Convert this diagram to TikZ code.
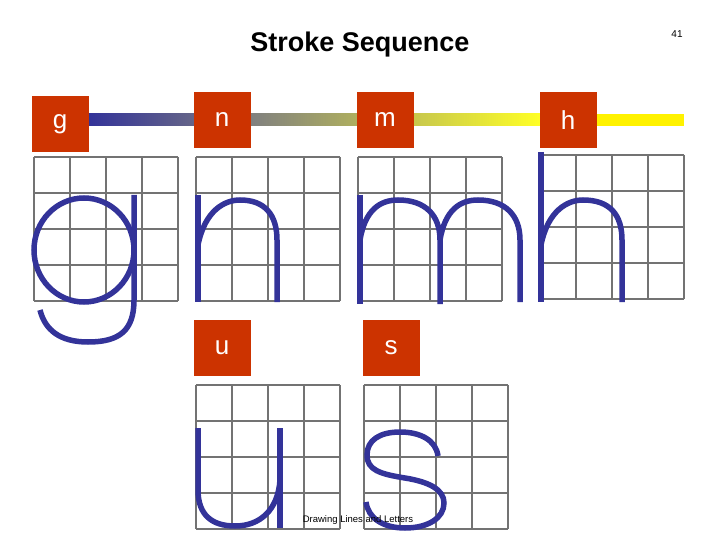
\documentclass[tikz,border=0pt]{standalone}
\usepackage{fontspec}
\setmainfont{Liberation Sans}
\begin{document}
\begin{tikzpicture}[x=1pt,y=-1pt,
  gridline/.style={draw=gray!90!black,line width=1.5pt},
  lbox/.style={text=white,minimum width=57pt,minimum height=56pt,inner sep=0pt,font=\fontsize{26}{26}\selectfont},
  stroke/.style={line width=5.5pt,line cap=butt}]
\definecolor{navy}{RGB}{51,51,153}
\definecolor{boxred}{RGB}{204,51,0}
\tikzset{lbox/.append style={fill=boxred},stroke/.append style={draw=navy}}
\useasboundingbox (0,0) rectangle (720,540);
\node[font=\bfseries\fontsize{27}{27}\selectfont] (title) at (360,45) {Stroke Sequence};
\node[font=\fontsize{10}{10}\selectfont] (pg) at (677,34) {41};
% gradient bar
\shade[left color=navy,right color=gray] (89,114) rectangle (250,126);
\shade[left color=gray,right color=yellow!85!white] (250,114) rectangle (540,126);
\fill[yellow] (540,114) rectangle (684,126);
% grids
\foreach \gx/\gy in {34/157,196/157,358/157,540/155,196/385,364/385}{
  \foreach \i in {0,36,72,108,144}{
    \draw[gridline] (\gx+\i,\gy) -- (\gx+\i,\gy+144);
    \draw[gridline] (\gx,\gy+\i) -- (\gx+144,\gy+\i);
  }
}
% letter boxes
\node[lbox] (bg) at (60,124) {g};
\node[lbox] (bn) at (222,120) {n};
\node[lbox] (bm) at (385,120) {m};
\node[lbox] (bh) at (568,120) {h};
\node[lbox] (bu) at (222,348) {u};
\node[lbox] (bs) at (391,348) {s};
% g
\draw[stroke] (84,250) ellipse [x radius=50, y radius=52];
\draw[stroke] (134,195) -- (134,300) .. controls (134,330) and (120,342) .. (88,342) .. controls (60,342) and (45,330) .. (40,310);
% n
\draw[stroke] (198,195) -- (198,302);
\draw[stroke] (198,245) .. controls (205,210) and (225,200) .. (240,200) .. controls (265,200) and (277,215) .. (277,240) -- (277,302);
% m
\draw[stroke] (360,195) -- (360,304);
\draw[stroke] (360,240) .. controls (365,210) and (380,200) .. (398,200) .. controls (425,200) and (440,215) .. (440,240) -- (440,304);
\draw[stroke] (440,240) .. controls (445,210) and (460,200) .. (478,200) .. controls (505,200) and (520,215) .. (520,240) -- (520,302);
% h
\draw[stroke] (541,152) -- (541,302);
\draw[stroke] (541,245) .. controls (548,210) and (568,200) .. (583,200) .. controls (610,200) and (622,215) .. (622,240) -- (622,302);
% u
\draw[stroke] (198,428) -- (198,490) .. controls (198,515) and (212,526) .. (235,526) .. controls (260,526) and (278,510) .. (280,480);
\draw[stroke] (280,428) -- (280,528);
% s
\draw[stroke] (438,456) .. controls (436,440) and (420,432) .. (400,432) .. controls (380,432) and (367,440) .. (367,455) .. controls (367,470) and (380,474) .. (405,478) .. controls (430,482) and (444,490) .. (444,503) .. controls (444,518) and (428,528) .. (405,528) .. controls (383,528) and (368,518) .. (366,502);
\node[font=\fontsize{9.5}{9.5}\selectfont] (foot) at (358,520) {Drawing Lines and Letters};
\end{tikzpicture}
\end{document}
